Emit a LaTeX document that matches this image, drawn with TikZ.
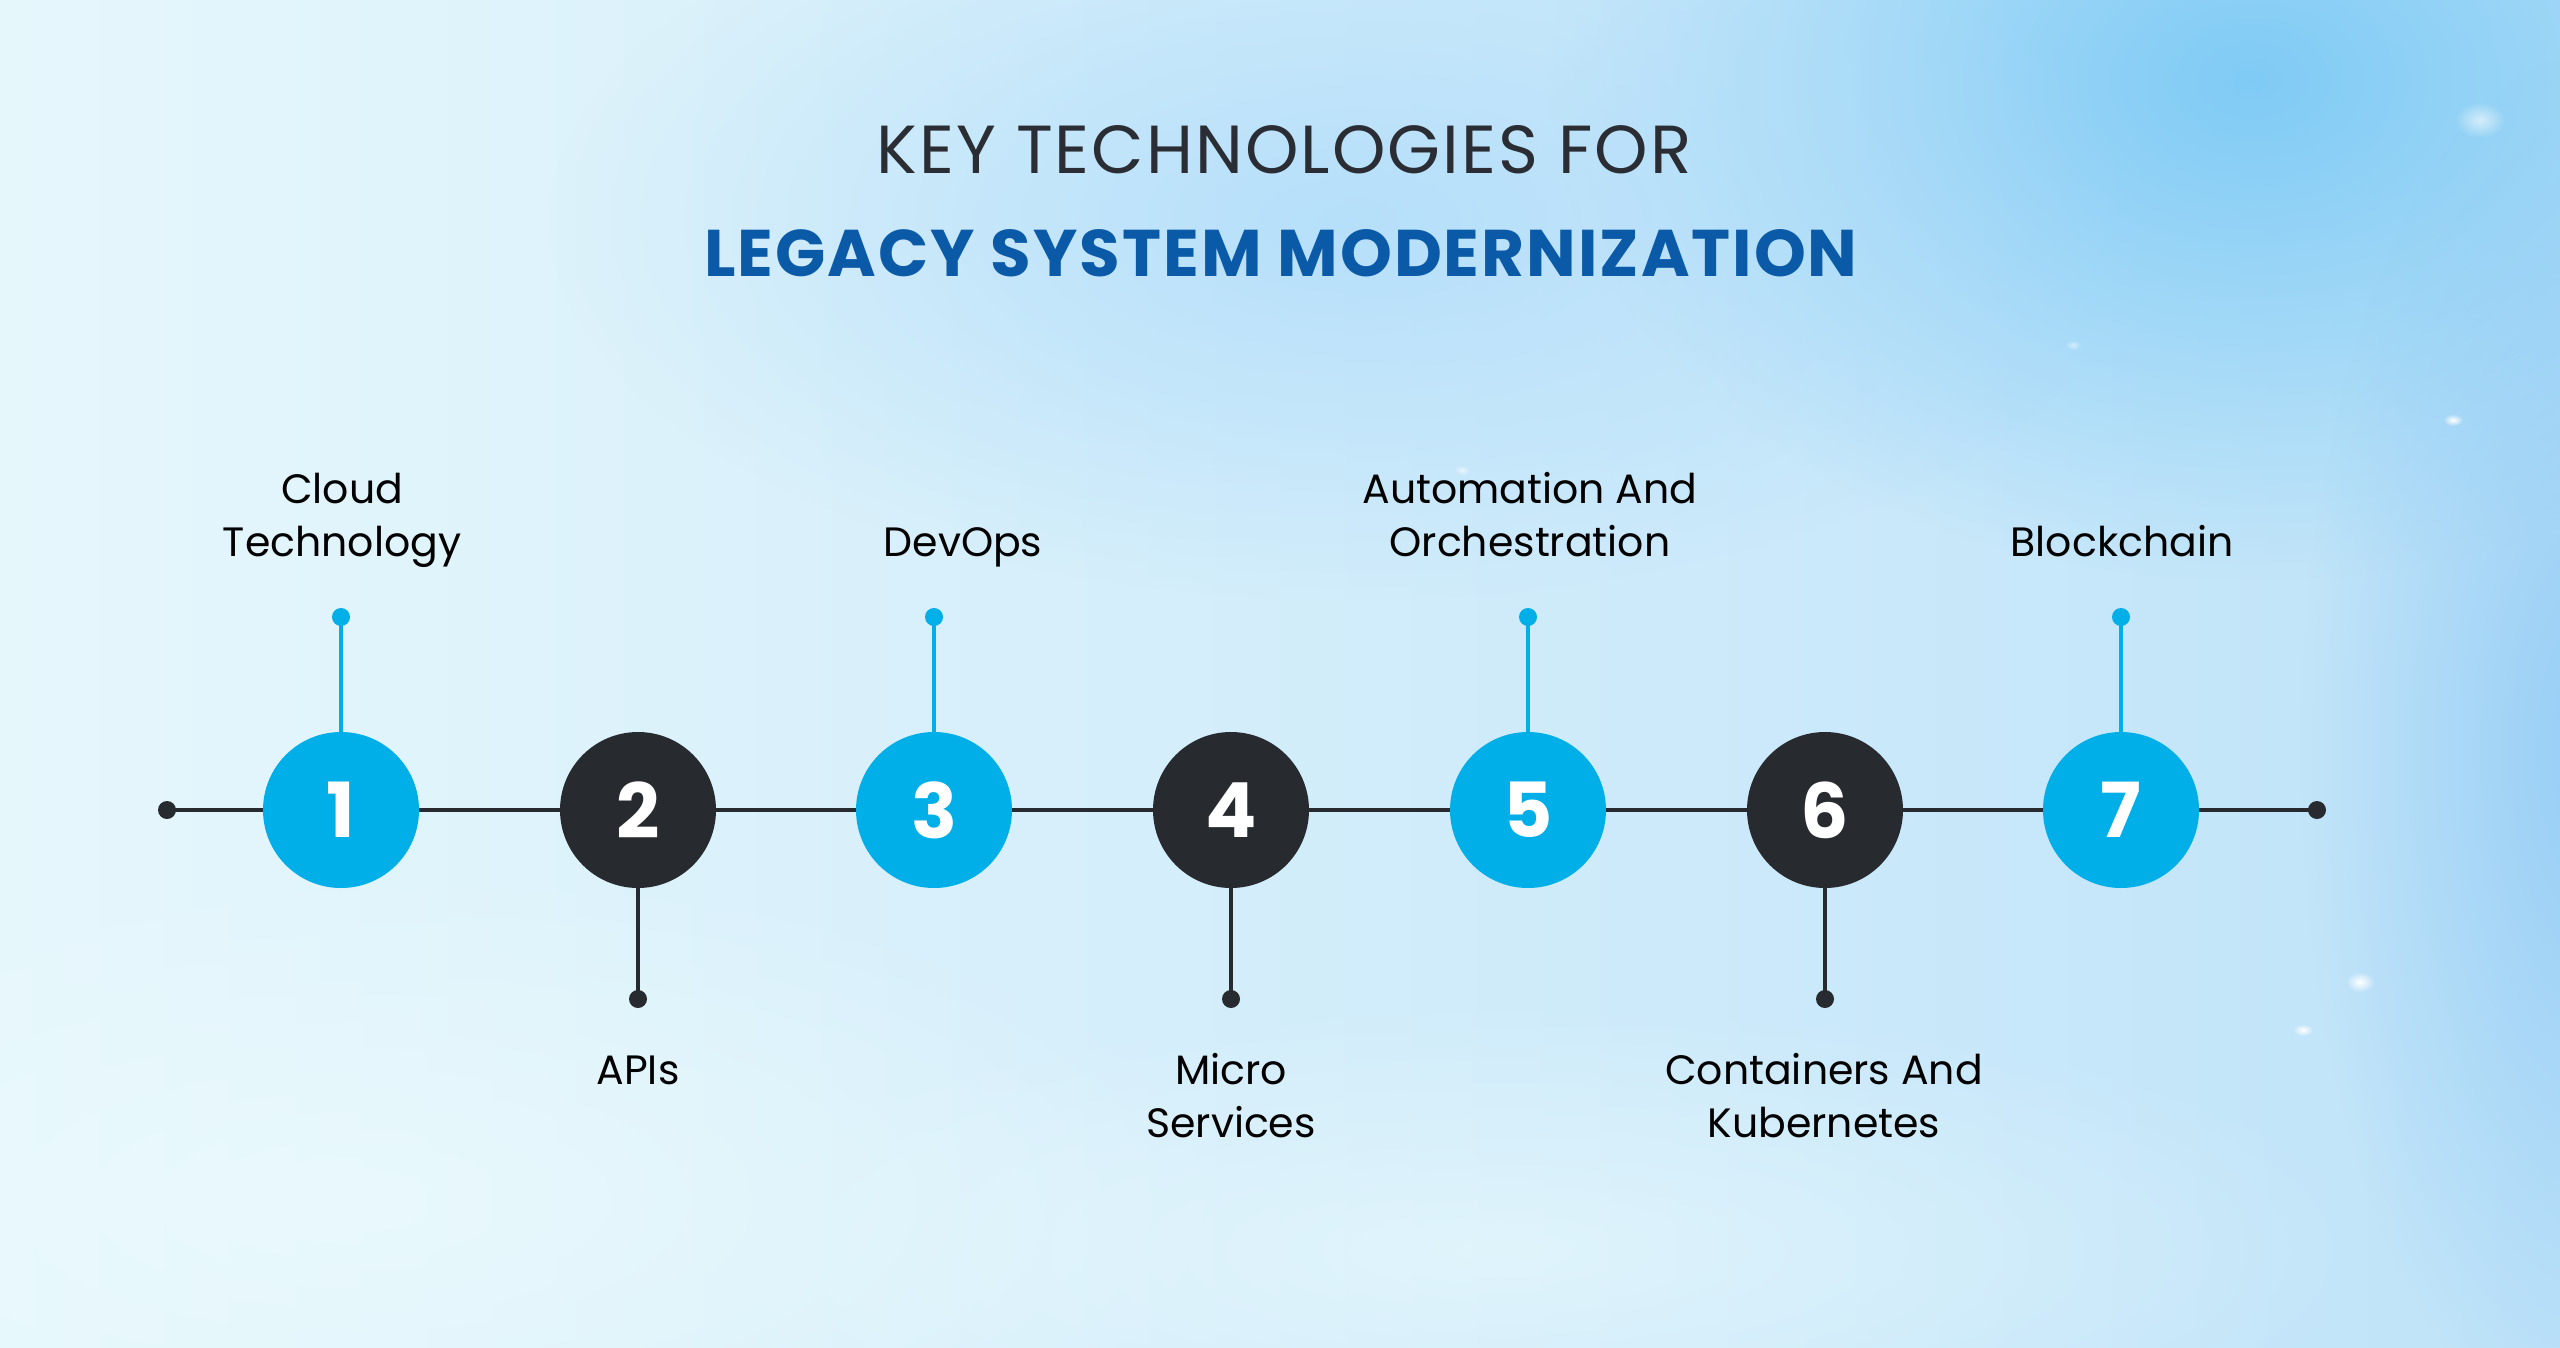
\documentclass[tikz,border=0pt]{standalone}
\usepackage{fontspec}
\setmainfont{Poppins}
\usetikzlibrary{fadings}
\definecolor{cyanc}{HTML}{00AEE8}
\definecolor{darkc}{HTML}{272B30}
\definecolor{titleblue}{HTML}{0B5AA8}
\definecolor{titledark}{HTML}{2A2D33}
\definecolor{bgleft}{HTML}{E6F7FC}
\definecolor{bgright}{HTML}{BFE3F9}
\tikzfading[name=glow, inner color=transparent!0, outer color=transparent!100]
\begin{document}
\begin{tikzpicture}[x=1pt,y=-1pt,
  numc/.style={circle, minimum size=156pt, inner sep=0pt, text=white,
    font=\fontsize{76}{76}\selectfont\bfseries},
  cy/.style={numc, fill=cyanc},
  dk/.style={numc, fill=darkc},
  mainline/.style={draw=darkc, line width=4pt},
  stemc/.style={draw=cyanc, line width=4pt},
  stemd/.style={draw=darkc, line width=4pt},
  toplab/.style={anchor=south, inner sep=0pt, text depth=0pt, align=center,
    text=black, font=\fontsize{41}{53}\selectfont},
  botlab/.style={anchor=base, inner sep=0pt, align=center,
    text=black, font=\fontsize{41}{53}\selectfont},
  spark/.style={fill=white, path fading=glow}
]
\useasboundingbox (0,0) rectangle (2560,1347);
% background
\shade[left color=bgleft, right color=bgright] (0,0) rectangle (2560,1347);
\fill[color={rgb,255:red,120;green,200;blue,245}, path fading=glow, opacity=0.9] (2250,80) ellipse (700pt and 500pt);
\fill[color={rgb,255:red,140;green,200;blue,245}, path fading=glow, opacity=0.8] (2600,750) ellipse (300pt and 700pt);
\fill[color={rgb,255:red,175;green,220;blue,250}, path fading=glow, opacity=0.8] (1350,220) ellipse (800pt and 380pt);
\fill[color={rgb,255:red,235;green,250;blue,253}, path fading=glow, opacity=0.8] (350,1200) ellipse (900pt and 350pt);
\fill[color={rgb,255:red,235;green,250;blue,253}, path fading=glow, opacity=0.6] (1500,1250) ellipse (900pt and 250pt);
% sparkles
\fill[spark] (2453,420) ellipse (10pt and 6pt);
\fill[spark] (2360,982) ellipse (14pt and 10pt);
\fill[spark] (2303,1030) ellipse (10pt and 6pt);
\fill[spark, opacity=0.6] (2480,120) ellipse (25pt and 18pt);
\fill[spark, opacity=0.6] (1462,470) ellipse (8pt and 5pt);
\fill[spark, opacity=0.5] (2073,345) ellipse (8pt and 5pt);
% title
\node[anchor=base, inner sep=0pt, text=titledark, font=\fontsize{68}{68}\selectfont\addfontfeatures{LetterSpace=3}] (t1) at (1284,173) {KEY TECHNOLOGIES FOR};
\node[anchor=base, inner sep=0pt, text=titleblue, font=\fontsize{66}{66}\selectfont\bfseries\addfontfeatures{LetterSpace=3}] (t2) at (1281,276) {LEGACY SYSTEM MODERNIZATION};
% end points
\coordinate (L) at (167,810);
\coordinate (R) at (2317,810);
% circles
\node[cy] (n1) at (341,810) {1};
\node[dk] (n2) at (638,810) {2};
\node[cy] (n3) at (934,810) {3};
\node[dk] (n4) at (1231,810) {4};
\node[cy] (n5) at (1528,810) {5};
\node[dk] (n6) at (1825,810) {6};
\node[cy] (n7) at (2121,810) {7};
\draw[mainline] (L) -- (n1) -- (n2) -- (n3) -- (n4) -- (n5) -- (n6) -- (n7) -- (R);
\fill[darkc] (L) circle (9pt);
\fill[darkc] (R) circle (9pt);
% stems
\coordinate (s1) at (341,617);
\coordinate (s3) at (934,617);
\coordinate (s5) at (1528,617);
\coordinate (s7) at (2121,617);
\coordinate (s2) at (638,999);
\coordinate (s4) at (1231,999);
\coordinate (s6) at (1825,999);
\foreach \i in {1,3,5,7} {
  \draw[stemc] (s\i) -- (n\i.north);
  \fill[cyanc] (s\i) circle (9pt);
}
\foreach \i in {2,4,6} {
  \draw[stemd] (n\i.south) -- (s\i);
  \fill[darkc] (s\i) circle (9pt);
}
% labels
\node[toplab] (l1) at (342,557) {Cloud\\Technology};
\node[toplab] (l3) at (963,557) {DevOps};
\node[toplab] (l5) at (1530,557) {Automation And\\Orchestration};
\node[toplab] (l7) at (2122,557) {Blockchain};
\node[botlab] (l2) at (638,1084) {APIs};
\node[botlab] (l4) at (1231,1137) {Micro\\Services};
\node[botlab] (l6) at (1824,1137) {Containers And\\Kubernetes};
\end{tikzpicture}
\end{document}
